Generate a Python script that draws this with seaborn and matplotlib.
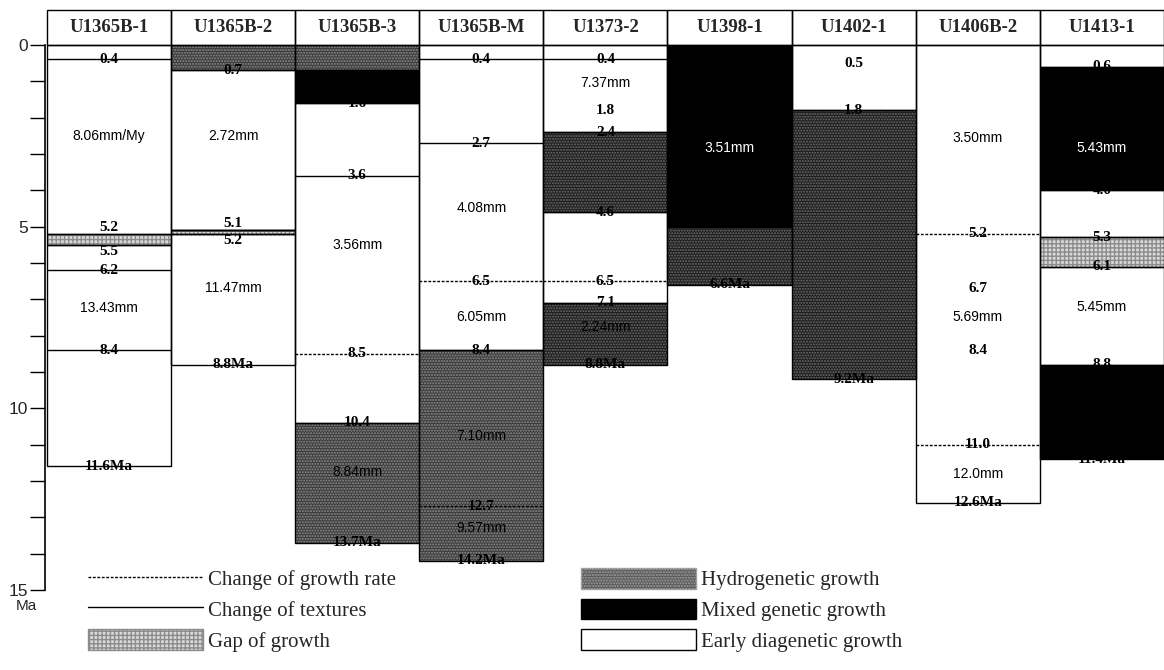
import numpy as np
import pandas as pd
import seaborn as sns
import matplotlib
matplotlib.use("Agg")
import matplotlib.pyplot as plt
from matplotlib.patches import Patch, Rectangle
from matplotlib.lines import Line2D
from matplotlib.ticker import MultipleLocator

# ---------------- data ----------------
sites = ["U1365B-1", "U1365B-2", "U1365B-3", "U1365B-M", "U1373-2",
         "U1398-1", "U1402-1", "U1406B-2", "U1413-1"]

# growth segments (column, top age, bottom age, kind)
seg_col = [0, 0, 0, 1, 1, 1, 1, 2, 2, 2, 2, 3, 3, 4, 4, 4, 4, 5, 5, 6, 6, 7, 8, 8, 8, 8, 8, 8]
seg_top = [0, 5.2, 5.5, 0, 0.7, 5.1, 5.2, 0, 0.7, 1.6, 10.4, 0, 8.4, 0, 2.4, 4.6, 7.1,
           0, 5.0, 0, 1.8, 0, 0, 0.6, 4.0, 5.3, 6.1, 8.8]
seg_bot = [5.2, 5.5, 11.6, 0.7, 5.1, 5.2, 8.8, 0.7, 1.6, 10.4, 13.7, 8.4, 14.2, 2.4, 4.6, 7.1, 8.8,
           5.0, 6.6, 1.8, 9.2, 12.6, 0.6, 4.0, 5.3, 6.1, 8.8, 11.4]
seg_kind = ["E", "G", "E", "H", "E", "G", "E", "H", "M", "E", "H", "E", "H", "E", "Hd", "E", "Hd",
            "M", "Hd", "E", "Hd", "E", "E", "M", "E", "G", "E", "M"]

# boundary lines (T = change of textures, R = change of growth rate)
line_col = [0, 0, 0, 1, 1, 2, 2, 3, 3, 3, 3, 4, 4, 7, 7]
line_age = [0.4, 6.2, 8.4, 5.1, 5.2, 3.6, 8.5, 0.4, 2.7, 6.5, 12.7, 0.4, 6.5, 5.2, 11.0]
line_kind = ["T", "T", "T", "T", "R", "T", "R", "T", "T", "R", "R", "T", "R", "R", "R"]

# age labels
age_col = [0, 0, 0, 0, 0, 0,
           1, 1, 1, 1,
           2, 2, 2, 2, 2,
           3, 3, 3, 3, 3, 3,
           4, 4, 4, 4, 4, 4, 4,
           5,
           6, 6, 6,
           7, 7, 7, 7, 7,
           8, 8, 8, 8, 8, 8]
age_val = [0.4, 5.2, 5.5, 6.2, 8.4, 11.6,
           0.7, 5.1, 5.2, 8.8,
           1.6, 3.6, 8.5, 10.4, 13.7,
           0.4, 2.7, 6.5, 8.4, 12.7, 14.2,
           0.4, 1.8, 2.4, 4.6, 6.5, 7.1, 8.8,
           6.6,
           0.5, 1.8, 9.2,
           5.2, 6.7, 8.4, 11.0, 12.6,
           0.6, 4.0, 5.3, 6.1, 8.8, 11.4]
age_text = ["0.4", "5.2", "5.5", "6.2", "8.4", "11.6Ma",
            "0.7", "5.1", "5.2", "8.8Ma",
            "1.6", "3.6", "8.5", "10.4", "13.7Ma",
            "0.4", "2.7", "6.5", "8.4", "12.7", "14.2Ma",
            "0.4", "1.8", "2.4", "4.6", "6.5", "7.1", "8.8Ma",
            "6.6Ma",
            "0.5", "1.8", "9.2Ma",
            "5.2", "6.7", "8.4", "11.0", "12.6Ma",
            "0.6", "4.0", "5.3", "6.1", "8.8", "11.4Ma"]
# vertical anchoring of the age labels (c = centred on the boundary)
age_anchor = ["c", "b", "t", "c", "c", "c",
              "c", "b", "t", "c",
              "c", "c", "c", "c", "c",
              "c", "c", "c", "c", "c", "c",
              "c", "c", "c", "c", "c", "c", "c",
              "c",
              "c", "c", "c",
              "c", "c", "c", "c", "c",
              "c", "c", "c", "c", "c", "c"]

# growth-rate / thickness labels
rate_col = [0, 0, 1, 1, 2, 2, 3, 3, 3, 3, 4, 4, 5, 7, 7, 7, 8, 8]
rate_age = [2.5, 7.25, 2.5, 6.7, 5.5, 11.75, 4.5, 7.5, 10.75, 13.3, 1.05, 7.75, 2.85,
            2.55, 7.5, 11.8, 2.85, 7.2]
rate_text = ["8.06mm/My", "13.43mm", "2.72mm", "11.47mm", "3.56mm", "8.84mm",
             "4.08mm", "6.05mm", "7.10mm", "9.57mm", "7.37mm", "2.24mm", "3.51mm",
             "3.50mm", "5.69mm", "12.0mm", "5.43mm", "5.45mm"]

legend_labels = ["Change of growth rate", "Change of textures", "Gap of growth",
                 "Hydrogenetic growth", "Mixed genetic growth", "Early diagenetic growth"]

# ---------------- style ----------------
sns.set_theme(style="white")
plt.rcParams["font.family"] = ["Liberation Sans", "DejaVu Sans"]
plt.rcParams["hatch.linewidth"] = 1.0

STYLE = {
    "E": dict(fc="white", hc="white", hatch=None),
    "G": dict(fc="#d9d9d9", hc="#8c8c8c", hatch="++++"),
    "H": dict(fc="#3a3a3a", hc="#8e8e8e", hatch="......"),
    "Hd": dict(fc="#1c1c1c", hc="#6e6e6e", hatch="......"),
    "M": dict(fc="black", hc="black", hatch=None),
}
VA = {"c": "center", "b": "bottom", "t": "top"}

W, H = 1164, 670
fig = plt.figure(figsize=(W / 100, H / 100), dpi=100)
ax = fig.add_axes([45 / W, 1 - 590 / H, 1 - 45 / W, 580 / H])
ax.set_xlim(-0.015, 9)
ax.set_ylim(15, -0.96)

df = pd.DataFrame({"col": seg_col, "top": seg_top, "bot": seg_bot, "kind": seg_kind})
for _, r in df.iterrows():
    st = STYLE[r.kind]
    ax.bar(r.col + 0.5, r.bot - r.top, bottom=r.top, width=1.0,
           color=st["fc"], edgecolor=st["hc"], hatch=st["hatch"], linewidth=0, zorder=1)
    ax.bar(r.col + 0.5, r.bot - r.top, bottom=r.top, width=1.0,
           fill=False, edgecolor="black", linewidth=1.0, zorder=2)

for c, a, k in zip(line_col, line_age, line_kind):
    ls = "-" if k == "T" else (0, (2.0, 1.2))
    ax.hlines(a, c, c + 1, colors="black", linestyles=ls, linewidth=1.0, zorder=3)

serif = ["Liberation Serif", "DejaVu Serif"]
for c, a, t, an in zip(age_col, age_val, age_text, age_anchor):
    ax.text(c + 0.5, a, t, ha="center", va=VA[an], fontsize=11, fontweight="bold",
            family=serif, color="black", zorder=4)


def kind_at(c, a):
    for cc, tt, bb, kk in zip(seg_col, seg_top, seg_bot, seg_kind):
        if cc == c and tt <= a < bb:
            return kk
    return "E"


for c, a, t in zip(rate_col, rate_age, rate_text):
    colr = "white" if kind_at(c, a) == "M" else "black"
    ax.text(c + 0.5, a, t, ha="center", va="center", fontsize=10, color=colr, zorder=4)

# header boxes
for i, s in enumerate(sites):
    ax.add_patch(Rectangle((i, -0.96), 1, 0.96, fill=False, ec="black", lw=1.0, zorder=5,
                           clip_on=False))
    ax.text(i + 0.5, -0.48, s, ha="center", va="center", fontsize=13.5, fontweight="bold",
            family=serif, zorder=6)

# axes
for sp in ["top", "right", "bottom"]:
    ax.spines[sp].set_visible(False)
ax.spines["left"].set_bounds(0, 15)
ax.spines["left"].set_color("black")
ax.spines["left"].set_linewidth(1.2)
ax.set_xticks([])
ax.set_yticks([0, 5, 10, 15])
ax.yaxis.set_minor_locator(MultipleLocator(1))
ax.tick_params(axis="y", which="both", direction="out", length=11, width=1, color="black",
               left=True, labelsize=12.5, pad=1)
ax.set_ylabel("")
fig.text(26 / W, 1 - 606 / H, "Ma", ha="center", va="center", fontsize=11)

# legend
handles = [
    Line2D([], [], color="black", lw=1, linestyle=(0, (2.0, 1.2))),
    Line2D([], [], color="black", lw=1),
    Patch(facecolor=STYLE["G"]["fc"], edgecolor=STYLE["G"]["hc"], hatch="++++"),
    Patch(facecolor="#5a5a5a", edgecolor="#a0a0a0", hatch="......"),
    Patch(facecolor="black", edgecolor="black"),
    Patch(facecolor="white", edgecolor="black"),
]
fig.legend(handles, legend_labels, ncol=2, loc="upper left",
           bbox_to_anchor=(88 / W, 1 - 568 / H), frameon=False, borderpad=0,
           borderaxespad=0, handlelength=5.5, handleheight=1.15, handletextpad=0.25,
           columnspacing=8.9, labelspacing=0.4,
           prop={"family": serif, "size": 15})

fig.savefig("out.png", dpi=100)
